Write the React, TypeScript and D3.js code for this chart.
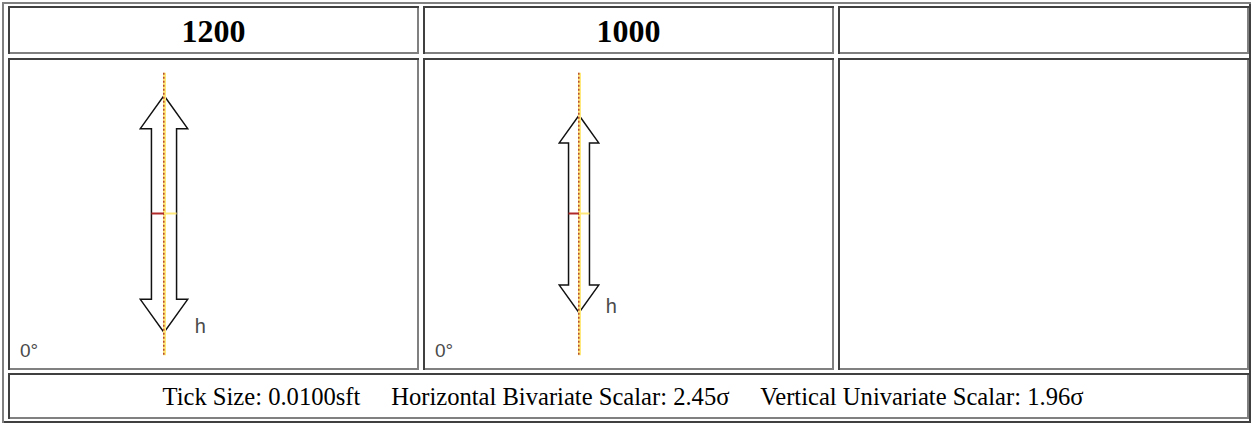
import React from 'react'
import * as d3 from 'd3'

// panel headers (the third column is empty)
const headers = ['1200', '1000', '']
// arrow value shown in each drawn panel
const arrowLengths = [1200, 1000]
// extent of the dotted centre line, same units as the arrows
const centerlineLengths = [1430, 1430]
const angleLabels = ['0°', '0°']
const arrowLabels = ['h', 'h']
const captionItems = [
  'Tick Size: 0.0100sft',
  'Horizontal Bivariate Scalar: 2.45σ',
  'Vertical Univariate Scalar: 1.96σ',
]

const W = 1252
const H = 423
const DARK = '#404040'
const LIGHT = '#808080'
const SERIF = "'Liberation Serif', 'Times New Roman', serif"
const SANS = "'Liberation Sans', Arial, sans-serif"

interface BevelProps {
  x: number
  y: number
  w: number
  h: number
  raised?: boolean
}

function Bevel({ x, y, w, h, raised }: BevelProps) {
  const tl = raised ? LIGHT : DARK
  const br = raised ? DARK : LIGHT
  return (
    <g>
      <rect x={x} y={y} width={w} height={2} fill={tl} />
      <rect x={x} y={y} width={2} height={h} fill={tl} />
      <rect x={x + 2} y={y + h - 2} width={w - 2} height={2} fill={br} />
      <rect x={x + w - 2} y={y + 2} width={2} height={h - 2} fill={br} />
    </g>
  )
}

export default function App() {
  // column layout
  const cols = d3
    .scaleBand<string>()
    .domain(headers.map((_, i) => String(i)))
    .range([8, 1249])
    .paddingInner(0.0084)
  const colX = (i: number) => Math.round(cols(String(i)) || 0)
  const colW = Math.round(cols.bandwidth())

  const rows = [
    { y: 6, h: 48 },
    { y: 58, h: 312 },
    { y: 373, h: 46 },
  ]

  // arrow half length in px
  const len = d3.scaleLinear().domain([0, 1200]).range([0, 118.5])
  const cy = 214

  const line = d3.line<[number, number]>()

  return (
    <svg
      width={W}
      height={H}
      style={{ position: 'absolute', left: 0, top: 0, display: 'block', background: '#fff' }}
    >
      <rect width={W} height={H} fill="#fff" />
      <Bevel x={2} y={2} w={1249} h={421} raised />

      {headers.map((hd, i) => (
        <g key={'c' + i}>
          <Bevel x={colX(i)} y={rows[0].y} w={colW} h={rows[0].h} />
          <Bevel x={colX(i)} y={rows[1].y} w={colW} h={rows[1].h} />
          <text
            x={colX(i) + colW / 2}
            y={42}
            textAnchor="middle"
            fontFamily={SERIF}
            fontWeight="bold"
            fontSize={32}
            fill="#000"
          >
            {hd}
          </text>
        </g>
      ))}

      <Bevel x={colX(0)} y={rows[2].y} w={1249 - colX(0)} h={rows[2].h} />

      {arrowLengths.map((v, i) => {
        const cx = colX(i) + 156
        const half = len(v)
        const hh = half * 0.28
        const hw = half * 0.2
        const sw = half * 0.106
        const cl = len(centerlineLengths[i])
        const pts: [number, number][] = [
          [cx, cy - half],
          [cx + hw, cy - half + hh],
          [cx + sw, cy - half + hh],
          [cx + sw, cy + half - hh],
          [cx + hw, cy + half - hh],
          [cx, cy + half],
          [cx - hw, cy + half - hh],
          [cx - sw, cy + half - hh],
          [cx - sw, cy - half + hh],
          [cx - hw, cy - half + hh],
        ]
        return (
          <g key={'a' + i}>
            <path
              d={line(pts) + 'Z'}
              fill="none"
              stroke="#111"
              strokeWidth={1.5}
              strokeLinejoin="miter"
            />
            <line
              x1={cx + 0.5}
              x2={cx + 0.5}
              y1={cy - cl}
              y2={cy + cl}
              stroke="#ffe97a"
              strokeWidth={3}
            />
            <line
              x1={cx - 0.2}
              x2={cx - 0.2}
              y1={cy - cl}
              y2={cy + cl}
              stroke="#b4472e"
              strokeWidth={1.5}
              strokeDasharray="2 2"
            />
            <line x1={cx - sw} x2={cx} y1={cy - 0.5} y2={cy - 0.5} stroke="#b02a2a" strokeWidth={2} />
            <line x1={cx} x2={cx + sw} y1={cy - 0.5} y2={cy - 0.5} stroke="#ffe97a" strokeWidth={2} />
            <text
              x={cx + hw + 7}
              y={cy + half}
              fontFamily={SANS}
              fontSize={20}
              fill="#4a4a4a"
            >
              {arrowLabels[i]}
            </text>
            <text
              x={colX(i) + 12}
              y={357}
              fontFamily={SANS}
              fontSize={19}
              fill="#4a4a4a"
            >
              {angleLabels[i]}
            </text>
          </g>
        )
      })}

      <text
        x={623}
        y={405}
        textAnchor="middle"
        fontFamily={SERIF}
        fontSize={24.6}
        fill="#000"
      >
        {captionItems.join('\u00a0'.repeat(5))}
      </text>
    </svg>
  )
}
